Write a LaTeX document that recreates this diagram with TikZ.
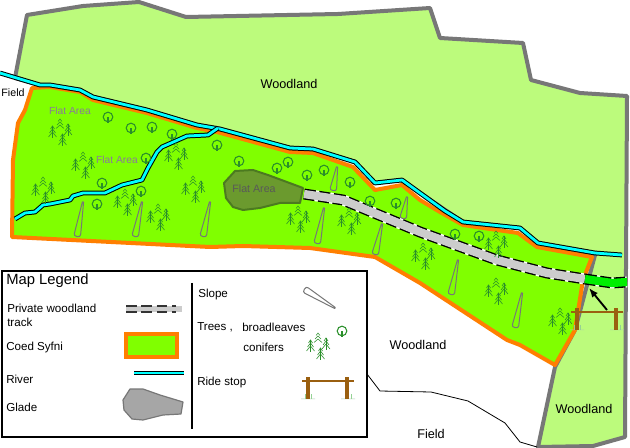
\documentclass[tikz,border=0pt]{standalone}
\usepackage{fontspec}
\usetikzlibrary{arrows.meta}
\setmainfont{Liberation Sans}
\definecolor{wood}{HTML}{BCFB7C}
\definecolor{coed}{HTML}{80FF00}
\definecolor{edgeorange}{HTML}{FF7F00}
\definecolor{edgegray}{HTML}{777777}
\definecolor{rivercyan}{HTML}{00FFFF}
\definecolor{treegreen}{HTML}{2A8F2A}
\definecolor{post}{HTML}{9A5F10}
\definecolor{flatlabel}{HTML}{8A7A9A}
\definecolor{gladefill}{HTML}{6B9A2E}
\definecolor{gladeedge}{HTML}{4C7A20}
\definecolor{trackgreen}{HTML}{00EE00}
\newcommand{\riverline}[1]{%
  \draw[black,line width=3.6pt,line join=round] #1;
  \draw[rivercyan,line width=2.1pt,line join=round] #1;}
\newcommand{\trackline}[2]{%
  \draw[black,line width=8.2pt,dash pattern=on 8.5pt off 2.5pt] #1;
  \draw[white,line width=8.2pt,dash pattern=on 2.5pt off 8.5pt,dash phase=-8.5pt] #1;
  \draw[#2,line width=6.2pt] #1;}
\newcommand{\slopesym}[4]{%
  \pgfmathsetmacro{\slen}{veclen(#3-#1,#4-#2)}%
  \pgfmathsetmacro{\sang}{atan2(#2-#4,#3-#1)}%
  \begin{scope}[shift={(#1,#2)},rotate=\sang]
    \draw[edgegray,line width=.75pt,line join=round]
      (0,-.6) -- (\slen-3,-3.2) .. controls (\slen+.5,-4.2) and (\slen+.5,4.2) .. (\slen-3,3.2) -- (0,.6) -- cycle;
  \end{scope}}
\tikzset{
  x=.75pt,y=-.75pt,
  lab/.style={inner sep=0pt,font=\fontsize{9.5}{11}\selectfont,text=black},
  leftlab/.style={inner sep=0pt,anchor=west,font=\fontsize{8.7}{11}\selectfont,text=black},
  flat/.style={inner sep=0pt,font=\fontsize{7.7}{10}\selectfont,text=flatlabel},
  pics/broadleaf/.style={code={
    \draw[treegreen,line width=.8pt] (0,0) circle[radius=4.8];
    \draw[treegreen,line width=1.3pt] (0,0) -- (0,6);
  }},
  pics/conifer/.style={code={
    \draw[treegreen,line width=.45pt] (0,-6) -- (0,6);
    \draw[treegreen,line width=.45pt] (-2,-3) -- (0,-6) -- (2,-3) (-3,1) -- (0,-3) -- (3,1) (-4,5) -- (0,0) -- (4,5);
  }},
  pics/hollowconifer/.style={code={
    \draw[treegreen,line width=.4pt] (-2,-2.5) -- (0,-5) -- (2,-2.5) (-3,1) -- (0,-2) -- (3,1) (-4,4.5) -- (0,1) -- (4,4.5);
  }},
  pics/conifergroup/.style={code={
    \pic at (0,0) {hollowconifer};
    \pic at (-7.5,8) {conifer};
    \pic at (8,6) {conifer};
    \pic at (2.5,16) {conifer};
  }},
  pics/ridestop/.style={code={
    \fill[green!25!gray!50] (-7,21.5) rectangle (7,22.2) (33,21.5) rectangle (47,22.2);
    \draw[green!40!gray!60,line width=.6pt] (-3,21.5) -- (-3,17) (3,21.5) -- (3,17) (37,21.5) -- (37,17) (43,21.5) -- (43,17);
    \draw[post,line width=2.4pt] (0,0) -- (0,21.5) (39,0) -- (39,21.5);
    \draw[post,line width=1.5pt] (-6,4) -- (46,4);
  }}
}
\begin{document}
\begin{tikzpicture}
\useasboundingbox (0,0) rectangle (630,448);
\fill[white] (0,0) rectangle (630,448);
% woodland
\draw[fill=wood,draw=edgegray,line width=3pt,line join=round]
 (27,15) -- (83,6) -- (139,2) -- (186,17) -- (338,14) -- (430,8) -- (440,38) -- (523,43) -- (531,80) -- (580,93) -- (627,96)
 -- (625,437) -- (593,446) -- (538,447) -- (555,367) -- (575,330) -- (595,255) -- (538,243) -- (520,228) -- (463,222) -- (420,193) -- (402,180) -- (375,183) -- (355,162) -- (313,149) -- (290,148) -- (220,129) -- (197,125) -- (147,110) -- (93,97) -- (80,90) -- (50,85) -- (40,85) -- (15,78) -- cycle;
% field boundary
\draw[black,line width=.6pt,line join=round] (367,374) -- (380,391) -- (431,392) -- (468,401) -- (505,423) -- (520,442) -- (537,447);
% Coed Syfni
\draw[fill=coed,draw=edgeorange,line width=3pt,line join=round]
 (32,88) -- (50,87) -- (80,92) -- (93,100) -- (147,113) -- (197,128) -- (217,132) -- (290,152) -- (313,153) -- (353,167) -- (375,190) -- (402,185) -- (420,200) -- (440,212) -- (463,225) -- (518,233) -- (537,247) -- (592,257) -- (583,280) -- (575,330) -- (555,365) -- (520,345) -- (507,340) -- (420,283) -- (375,257) -- (310,248) -- (243,246) -- (210,247) -- (12,237) -- (13,160) -- (18,123) -- (25,110) -- cycle;
% rivers
\riverline{(0,73) -- (40,85) -- (50,85) -- (80,90) -- (93,97) -- (147,110) -- (197,125) -- (220,129) -- (290,148) -- (313,149) -- (355,162) -- (375,183) -- (402,180) -- (420,193) -- (445,211) -- (463,222) -- (520,228) -- (538,243) -- (595,253) -- (622,255)}
\riverline{(15,219) -- (25,213) -- (35,212) -- (43,205) -- (50,204) -- (70,200) -- (73,196) -- (83,193) -- (105,193) -- (122,185) -- (142,180) -- (148,168) -- (157,152) -- (162,147) -- (187,136) -- (208,135) -- (218,128)}
% glade
\draw[fill=gladefill,draw=gladeedge,line width=1.5pt,line join=round]
 (235,171) -- (253,170) -- (268,175) -- (303,188) -- (300,203) -- (280,203) -- (260,208) -- (243,210) -- (233,207) -- (226,198) -- (224,183) -- cycle;
\node[inner sep=0pt,font=\fontsize{8}{10}\selectfont,text=black!65] (flat3) at (254,189) {Flat Area};
% track
\trackline{(304,194) -- (343,200) -- (420,232) -- (497,260) -- (547,273) -- (585,279)}{black!20}
\trackline{(585,279) -- (612,283) -- (627,282)}{trackgreen}
% slopes
\slopesym{83}{202}{77}{237}
\slopesym{142}{202}{135}{237}
\slopesym{210}{202}{203}{237}
\slopesym{337}{167}{333}{191}
\slopesym{324}{208}{317}{244}
\slopesym{382}{224}{375}{255}
\slopesym{407}{197}{403}{219}
\slopesym{458}{260}{451}{295}
\slopesym{522}{293}{515}{328}
\slopesym{335}{308}{304}{289}
% broadleaves
\foreach \px/\py in {108/117,131/128,152/127,172/134,146/158,102/183,141/191,97/204,217/145,239/161,277/168,288/162,307/175,324/170,350/182,370/201,396/203,455/234,479/236,342/331}
  \pic at (\px,\py) {broadleaf};
% conifers
\foreach \px/\py in {60/124,83/157,43/182,125/194,176/148,158/209,193/181,298/211,349/213,423/248,496/236,496/283,560/313,318/338}
  \pic at (\px,\py) {conifergroup};
% ride stops
\pic at (577,308) {ridestop};
\pic at (308,377) {ridestop};
% arrow
\coordinate (arrowfrom) at (607,310);
\coordinate (arrowto) at (589,288);
\draw[-{Latex[length=7pt,width=5.5pt]},black,line width=1.4pt] (arrowfrom) -- (arrowto);
% map labels
\node[lab] (w1) at (289,84) {Woodland};
\node[lab] (w2) at (418,345) {Woodland};
\node[lab] (w3) at (584,409) {Woodland};
\node[lab] (f1) at (431,434) {Field};
\node[inner sep=0pt,font=\fontsize{8}{10}\selectfont] (f2) at (13,93) {Field};
\node[flat] (flat1) at (70,111) {Flat Area};
\node[flat] (flat2) at (117,160) {Flat Area};
% legend
\draw[black,line width=1.6pt] (2,271) rectangle (367,437);
\coordinate (divtop) at (192,283);
\coordinate (divbot) at (192,429);
\draw[black,line width=1.5pt] (divtop) -- (divbot);
\node[leftlab,font=\fontsize{11.1}{13}\selectfont] (lt) at (6,281) {Map Legend};
\node[leftlab] (l1) at (7,308) {Private woodland};
\node[leftlab] (l1b) at (7,322) {track};
\node[leftlab] (l2) at (6,347) {Coed Syfni};
\node[leftlab] (l3) at (6,379) {River};
\node[leftlab] (l4) at (6,407) {Glade};
\node[leftlab] (r1) at (198,295) {Slope};
\node[leftlab] (r2) at (197,327) {Trees ,};
\node[leftlab] (r2b) at (242,327) {broadleaves};
\node[leftlab] (r2c) at (243,347) {conifers};
\node[leftlab] (r3) at (197,382) {Ride stop};
% legend symbols
\draw[black!20,line width=4.5pt] (126,309) -- (182,309);
\draw[black!80,line width=5.8pt,dash pattern=on 8pt off 3.5pt] (126,309) -- (176,309);
\draw[black!20,line width=3.4pt] (126,309) -- (182,309);
\draw[fill=coed,draw=edgeorange,line width=3pt] (126,334) rectangle (177,357);
\riverline{(134,373) -- (184,373)}
\draw[fill=black!35,draw=edgegray,line width=.9pt,line join=round]
 (130,389) -- (143,389) -- (160,395) -- (183,402) -- (181,414) -- (163,415) -- (143,420) -- (132,419) -- (124,410) -- (123,400) -- cycle;
\end{tikzpicture}
\end{document}
